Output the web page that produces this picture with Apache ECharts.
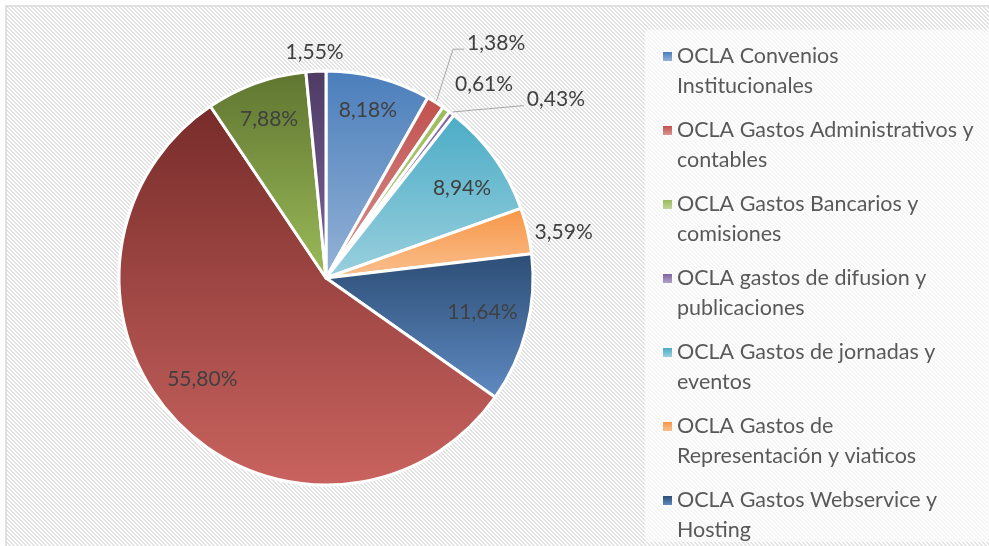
<!DOCTYPE html>
<html>
<head>
<meta charset="utf-8">
<script src="https://cdn.jsdelivr.net/npm/echarts@6/dist/echarts.min.js"></script>
<style>
  html, body { margin: 0; padding: 0; background: #fff; }
  #chart { width: 989px; height: 546px; }
</style>
</head>
<body>
<div id="chart"></div>
<script type="text/javascript">
// data
var categories = [
    'OCLA Convenios Institucionales',
    'OCLA Gastos Administrativos y contables',
    'OCLA Gastos Bancarios y comisiones',
    'OCLA gastos de difusion y publicaciones',
    'OCLA Gastos de jornadas y eventos',
    'OCLA Gastos de Representación y viaticos',
    'OCLA Gastos Webservice y Hosting',
    'Categoría 8',
    'Categoría 9',
    'Categoría 10'
];
var values = [8.18, 1.38, 0.61, 0.43, 8.94, 3.59, 11.64, 55.80, 7.88, 1.55];
var legendText = [
    'OCLA Convenios\nInstitucionales',
    'OCLA Gastos Administrativos y\ncontables',
    'OCLA Gastos Bancarios y\ncomisiones',
    'OCLA gastos de difusion y\npublicaciones',
    'OCLA Gastos de jornadas y\neventos',
    'OCLA Gastos de\nRepresentación y viaticos',
    'OCLA Gastos Webservice y\nHosting'
];

// styles
var sliceColors = [
    ['#4A7EBB', '#95B3D7'], ['#C0504D', '#D99694'], ['#9BBB59', '#C3D69B'],
    ['#8064A2', '#B3A2C7'], ['#4BACC6', '#9AD0DE'], ['#F79646', '#FAC090'],
    ['#2C4D75', '#5F8AC2'], ['#772C2A', '#C9635F'], ['#5F7530', '#9BBB59'],
    ['#4D3B62', '#8064A2']
];
// label placement: angle shift from the slice bisector (deg) and distance from centre (px)
var labelShift = [-0.7, 4.0, 3.7, 14.8, 2.3, 2.3, -1.9, 5.0, 0.1, -0.1];
var labelDist = [173, 290, 250, 291, 163, 242, 160, 160, 169, 226];
var leader = [null, 'elbow', null, 'straight', null, null, null, null, null, null];

var cx = 326, cy = 278, R = 207;

var total = 0;
values.forEach(function (v) { total += v; });
var midAngle = [];
var acc = 0;
values.forEach(function (v) {
    midAngle.push((acc + v / 2) / total * 360);
    acc += v;
});

// diagonal stripe pattern for the chart area
var tile = document.createElement('canvas');
tile.width = 4; tile.height = 4;
var tctx = tile.getContext('2d');
tctx.fillStyle = '#ffffff';
tctx.fillRect(0, 0, 4, 4);
tctx.fillStyle = '#e2e2e2';
for (var py = 0; py < 4; py++) {
    for (var px = 0; px < 4; px++) {
        var d = ((px - py) % 4 + 4) % 4;
        if (d === 0 || d === 1) tctx.fillRect(px, py, 1, 1);
    }
}

function grad(i, end) {
    return new echarts.graphic.LinearGradient(0, 0, 0, 1, [
        { offset: 0, color: sliceColors[i][0] },
        { offset: end, color: sliceColors[i][1] },
        { offset: 1, color: sliceColors[i][1] }
    ]);
}

var pieData = values.map(function (v, i) {
    return {
        name: categories[i],
        value: v,
        itemStyle: { color: grad(i, 1) },
        labelLine: { show: !!leader[i] }
    };
});

// legend icon is 9px square inside a 39px tall symbol box
var legendData = categories.slice(0, 7).map(function (name, i) {
    return { name: name, itemStyle: { color: grad(i, 9 / 39), borderWidth: 0 } };
});

var myChart = echarts.init(document.getElementById('chart'));
var option = {
    animation: false,
    graphic: [
        {
            type: 'rect', z: -10, silent: true,
            shape: { x: 6, y: 6, width: 1000, height: 600 },
            style: { fill: { image: tile, repeat: 'repeat' }, stroke: '#d9d9d9', lineWidth: 1.5 }
        },
        {
            type: 'rect', z: -9, silent: true,
            shape: { x: 645, y: 30, width: 360, height: 512 },
            style: { fill: 'rgba(255,255,255,0.65)' }
        }
    ],
    legend: {
        orient: 'vertical',
        left: 663,
        top: 41.5,
        height: 540,
        padding: 0,
        // square on the first text line: the empty tail keeps it at the top of the item
        icon: 'path://M0,0H9V9H0Z M0,39H9',
        itemWidth: 9,
        itemHeight: 39,
        itemGap: 14,
        itemStyle: { borderWidth: 0 },
        data: legendData,
        formatter: function (name) {
            return legendText[categories.indexOf(name)];
        },
        textStyle: {
            fontFamily: 'Lato',
            fontSize: 21.5,
            color: '#595959',
            lineHeight: 30
        }
    },
    series: [{
        type: 'pie',
        center: [cx, cy],
        radius: R,
        startAngle: 90,
        clockwise: true,
        avoidLabelOverlap: false,
        itemStyle: { borderColor: '#ffffff', borderWidth: 3 },
        emphasis: { disabled: true },
        label: {
            show: true,
            position: 'outside',
            fontFamily: 'Lato',
            fontSize: 21,
            color: '#404040',
            formatter: function (p) {
                return p.value.toFixed(2).replace('.', ',') + '%';
            }
        },
        labelLine: { lineStyle: { color: '#a6a6a6', width: 1 } },
        labelLayout: function (params) {
            var i = params.dataIndex;
            var a = (midAngle[i] + labelShift[i]) * Math.PI / 180;
            var x = cx + labelDist[i] * Math.sin(a);
            var y = cy - labelDist[i] * Math.cos(a);
            var out = { x: x, y: y, align: 'center', verticalAlign: 'middle' };
            if (leader[i]) {
                var b = midAngle[i] * Math.PI / 180;
                var p1 = [cx + (R + 2) * Math.sin(b), cy - (R + 2) * Math.cos(b)];
                var end = [x - params.labelRect.width / 2 - 3, y + 6];
                var mid = leader[i] === 'elbow'
                    ? [end[0] - 11, end[1]]
                    : [(p1[0] + end[0]) / 2, (p1[1] + end[1]) / 2];
                out.labelLinePoints = [p1, mid, end];
            }
            return out;
        },
        data: pieData
    }]
};
myChart.setOption(option);
</script>
</body>
</html>
